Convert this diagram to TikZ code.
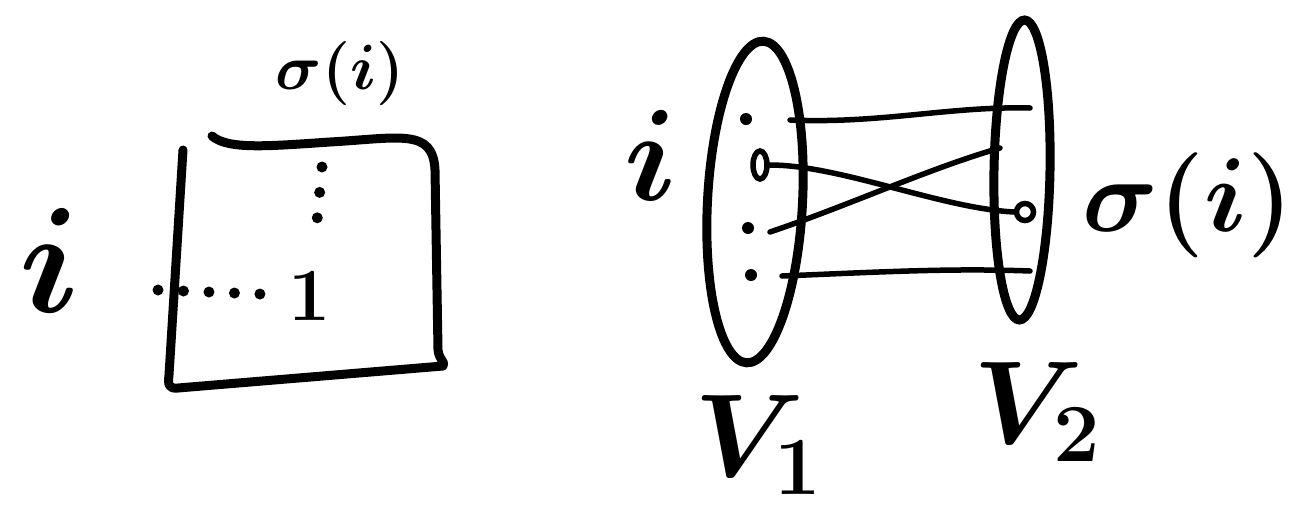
\RequirePackage{fix-cm}
\documentclass[tikz,border=0pt]{standalone}
\usepackage{xcolor}
\usetikzlibrary{positioning,shapes.geometric}
\definecolor{ink}{HTML}{000000}

\begin{document}
\begin{tikzpicture}[
  x=1pt, y=-1pt,
  % heavy strokes for the outlines, lighter ones for the pairs i -> sigma(i)
  frame/.style  = {draw=ink, line width=9pt, line cap=round, line join=round},
  setbox/.style = {ellipse, draw=ink, line width=9pt, inner sep=0pt},
  wire/.style   = {draw=ink, line width=5.5pt, line cap=round},
  dots/.style   = {draw=ink, line width=11pt, line cap=round,
                   dash pattern=on 0pt off 25.5pt},
  vtx/.style    = {circle, fill=ink, inner sep=0pt, minimum size=12pt},
  hole/.style   = {draw=ink, line width=5.5pt, inner sep=0pt},
  big/.style    = {inner sep=0pt, text=ink,
                   font=\fontsize{#1}{#1}\selectfont\boldmath},
]
\useasboundingbox (0,0) rectangle (1293,515);

% ------------------------------------------------------------ the matrix --
\draw[frame] (212,136) .. controls (228,150) and (270,146) .. (330,142)
  .. controls (400,138) and (433,128) .. (435,170) -- (438,350)
  .. controls (439,360) and (446,362) .. (443,366) -- (178,388)
  .. controls (168,389) and (168,384) .. (169,375) -- (183,150);
\node[big=64]  (sigtop) at (340,73)  {$\sigma(i)$};
\node[big=150] (irow)   at (50,260)  {$i$};
\node[big=75]  (one)    at (310,296) {$1$};
\coordinate (rowstart) at (158,290);
\coordinate (colstart) at (322,167);
\draw[dots, shorten >=24pt] (rowstart) -- (one);
\draw[dots, shorten >=48pt] (colstart) -- (one);

% ---------------------------------------------------------- the two sets --
\node[setbox, minimum width=95pt, minimum height=322pt, rotate=-3] (V1) at (755,202) {};
\node[setbox, minimum width=56pt, minimum height=300pt, rotate=-1] (V2) at (1022,170) {};
\node[big=118, below=28pt of V1, xshift=12pt] (v1lab) {$V_1$};
\node[big=118, below=38pt of V2, xshift=18pt] (v2lab) {$V_2$};

\node[vtx] (a1) at (746,119) {};
\node[hole, ellipse, minimum width=14pt, minimum height=28pt] (src) at (760,165) {};
\node[vtx] (a3) at (748,228) {};
\node[vtx] (a4) at (751,275) {};
\node[hole, circle, minimum size=17pt] (img) at (1025,212) {};
\node[big=130] (ilab) at (651,155) {$i$};
\node[big=105] (sigr) at (1188,205) {$\sigma(i)$};

% ---------------------------------------------------------------- wires --
\coordinate (l1) at (790,120);  \coordinate (r1) at (1030,108);
\coordinate (l3) at (770,232);  \coordinate (r3) at (1000,148);
\coordinate (l4) at (782,276);  \coordinate (r4) at (1030,271);
\draw[wire] (l1) .. controls (880,124) and (950,106) .. (r1);
\draw[wire] (src.east) .. controls (840,165) and (940,208) .. (img.west);
\draw[wire] (l3) .. controls (850,205) and (930,168) .. (r3);
\draw[wire] (l4) .. controls (880,272) and (950,268) .. (r4);

\end{tikzpicture}
\end{document}
